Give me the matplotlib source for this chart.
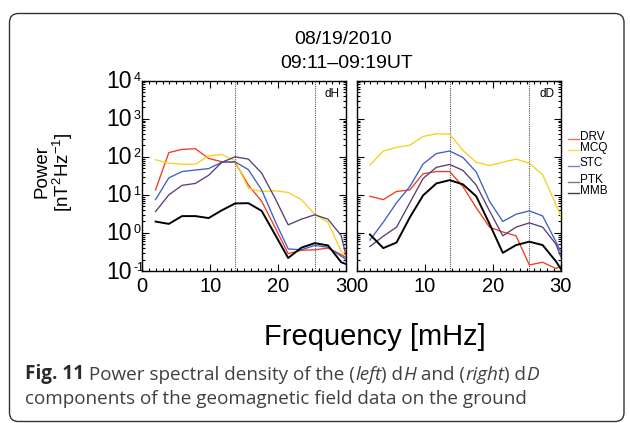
import numpy as np
import matplotlib
matplotlib.use("Agg")
import matplotlib.pyplot as plt
from matplotlib import patches, transforms
from matplotlib.text import Annotation
from matplotlib.ticker import MultipleLocator, LogLocator, NullFormatter
from matplotlib.lines import Line2D

# ---------------- data ----------------
freq = [1.953 * k for k in range(1, 17)]  # mHz

stations = ["DRV", "MCQ", "STC", "PTK", "MMB"]
colors = ["#f23c1e", "#f5d21e", "#3f5fc8", "#5b3c78", "#000000"]

dH_DRV = [13.5, 129, 157, 163, 91, 74, 72, 18, 6.8, 1.42, 0.285, 0.35, 0.36, 0.40, 0.27, 0.16]
dH_MCQ = [84, 68, 64, 64, 106, 115, 79, 14.9, 12.3, 12.8, 11.6, 7.5, 3.1, 1.9, 0.33, 0.145]
dH_STC = [7.5, 28, 41, 45, 49, 72, 74, 46, 13.5, 2.1, 0.38, 0.36, 0.47, 0.42, 0.245, 0.14]
dH_PTK = [3.65, 10, 17.8, 20, 32.7, 72, 100, 87, 37.5, 8.3, 1.63, 2.3, 3.0, 2.3, 0.85, 0.03]
dH_MMB = [1.99, 1.73, 2.77, 2.77, 2.46, 3.94, 5.95, 6.06, 3.8, 0.92, 0.22, 0.41, 0.54, 0.47, 0.17, 0.125]

dD_DRV = [9.2, 7.5, 12.3, 13.5, 36, 41, 41, 16.5, 4.6, 1.42, 1.06, 0.84, 0.144, 0.17, 0.116, 0.18]
dD_MCQ = [61, 142, 177, 202, 344, 402, 394, 148, 72, 59, 72, 87, 68, 34, 5.6, 0.83]
dD_STC = [0.65, 1.91, 6.2, 16.5, 65, 122, 142, 96, 40, 6.8, 2.0, 3.1, 3.8, 2.8, 0.59, 0.115]
dD_PTK = [0.44, 0.82, 1.42, 6.2, 27, 53, 63, 44, 18.2, 3.8, 0.84, 1.42, 1.84, 1.42, 0.51, 0.065]
dD_MMB = [0.91, 0.40, 0.56, 2.56, 9.7, 20, 24.4, 18.9, 9.2, 1.73, 0.30, 0.48, 0.59, 0.48, 0.18, 0.052]

dH = [dH_DRV, dH_MCQ, dH_STC, dH_PTK, dH_MMB]
dD = [dD_DRV, dD_MCQ, dD_STC, dD_PTK, dD_MMB]

vlines = [13.67, 25.4]
xticks = [0, 10, 20, 30]
yticks = [0.1, 1, 10, 100, 1000, 10000]
yexp = ["-1", "0", "1", "2", "3", "4"]

title1 = "08/19/2010"
title2 = "09:11\u201309:19UT"

# ---------------- figure ----------------
W, H = 630, 423
plt.rcParams["font.family"] = ["Liberation Sans", "DejaVu Sans"]
plt.rcParams["mathtext.fontset"] = "custom"
plt.rcParams["mathtext.rm"] = "Liberation Sans"
plt.rcParams["mathtext.it"] = "Liberation Sans:italic"
plt.rcParams["mathtext.default"] = "regular"
fig = plt.figure(figsize=(W / 100, H / 100), dpi=100)

def px(x0, y0, x1, y1):
    return [x0 / W, 1 - y1 / H, (x1 - x0) / W, (y1 - y0) / H]

ax1 = fig.add_axes(px(142.3, 80.7, 346.0, 271.0))
ax2 = fig.add_axes(px(356.7, 80.7, 560.7, 271.0))

for ax, data, tag in [(ax1, dH, "dH"), (ax2, dD, "dD")]:
    for vals, c in zip(data, colors):
        lw = 1.4 if c == "#000000" else 0.95
        ax.plot(freq, vals, color=c, lw=lw, zorder=3)
    for v in vlines:
        ax.axvline(v, color="#555555", lw=0.8, ls=(0, (1, 1)), zorder=2)
    ax.set_yscale("log")
    ax.set_xlim(0, 30)
    ax.set_ylim(0.1, 1e4)
    ax.set_xticks(xticks, labels=[str(t) for t in xticks])
    ax.xaxis.set_minor_locator(MultipleLocator(1))
    ax.yaxis.set_major_locator(LogLocator(base=10, numticks=10))
    ax.yaxis.set_minor_locator(LogLocator(base=10, subs=np.arange(2, 10), numticks=20))
    ax.yaxis.set_major_formatter(NullFormatter())
    ax.yaxis.set_minor_formatter(NullFormatter())
    ax.tick_params(which="both", direction="in", top=True, right=True, width=0.8)
    ax.tick_params(which="major", length=5, labelsize=14.5, pad=4)
    ax.tick_params(which="minor", length=2.5)
    for s in ax.spines.values():
        s.set_linewidth(1.0)
    ax.text(0.968, 0.9275, tag, transform=ax.transAxes, ha="right", va="center",
            fontsize=8.5)

# move right-panel "0" label so it does not collide with "30"
for lbl in ax2.get_xticklabels():
    if lbl.get_text() == "0":
        lbl.set_horizontalalignment("left")

# y tick labels of left panel (10 with exponent)
for t, e in zip(yticks, yexp):
    ax1.annotate("10", xy=(0, t), xycoords=("axes fraction", "data"),
                 xytext=(-10.5, -1), textcoords="offset pixels",
                 ha="right", va="center", fontsize=16.5)
    ax1.annotate(e, xy=(0, t), xycoords=("axes fraction", "data"),
                 xytext=(-9.0, 9), textcoords="offset pixels",
                 ha="left", va="top", fontsize=9)

# titles
fig.text(343 / W, 1 - 40 / H, title1, ha="center", va="center", fontsize=14)
fig.text(347 / W, 1 - 63 / H, title2, ha="center", va="center", fontsize=14)

# y label
fig.text(42 / W, 1 - 172 / H, "Power", rotation=90, ha="center", va="center", fontsize=13.5)
fig.text(63 / W, 1 - 172 / H, "[nT$^{2}$Hz$^{-1}$]", rotation=90, ha="center",
         va="center", fontsize=13.5)

# x label
fig.text(375 / W, 1 - 337 / H, "Frequency [mHz]", ha="center", va="center", fontsize=21)

# legend (manual, as in the reference)
leg_y = [139, 150.5, 166, 182, 193]
for name, c, y in zip(stations, colors, leg_y):
    fig.add_artist(Line2D([567.5 / W, 579 / W], [1 - y / H, 1 - y / H],
                          color=c, lw=1.0, alpha=0.75))
    fig.text(580 / W, 1 - (y + 0.5) / H, name, ha="left", va="baseline", fontsize=8.5)

# caption
cap_font = ["Open Sans", "DejaVu Sans"]
cap_col = "#404040"
cap_size = 13.6
pieces = [(" Power spectral density of the (", "normal", "normal"),
          ("left", "normal", "italic"), (") d", "normal", "normal"), ("H", "normal", "italic"),
          (" and (", "normal", "normal"), ("right", "normal", "italic"), (") d", "normal", "normal"),
          ("D", "normal", "italic")]
prev = fig.text(25 / W, 1 - 384 / H, "Fig. 11", ha="left", va="bottom",
                fontsize=cap_size, family=cap_font, weight="bold", color="#2a2a2a")
for txt, wt, st in pieces:
    a = Annotation(txt, xy=(1, 0), xycoords=prev, xytext=(0, 0), textcoords="offset pixels",
                   ha="left", va="bottom", fontsize=cap_size, family=cap_font,
                   weight=wt, style=st, color=cap_col)
    fig.add_artist(a)
    prev = a
fig.text(25 / W, 1 - 408 / H, "components of the geomagnetic field data on the ground",
         ha="left", va="bottom", fontsize=cap_size, family=cap_font, color=cap_col)

# rounded frame
pxtr = transforms.Affine2D().scale(1 / W, 1 / H) + fig.transFigure
box = patches.FancyBboxPatch((9.5, 1.5), 614.5, 408, boxstyle="round,pad=0,rounding_size=9",
                             transform=pxtr, fill=False, edgecolor="#333333", lw=1.0)
fig.add_artist(box)

fig.savefig("out.png", dpi=100)
